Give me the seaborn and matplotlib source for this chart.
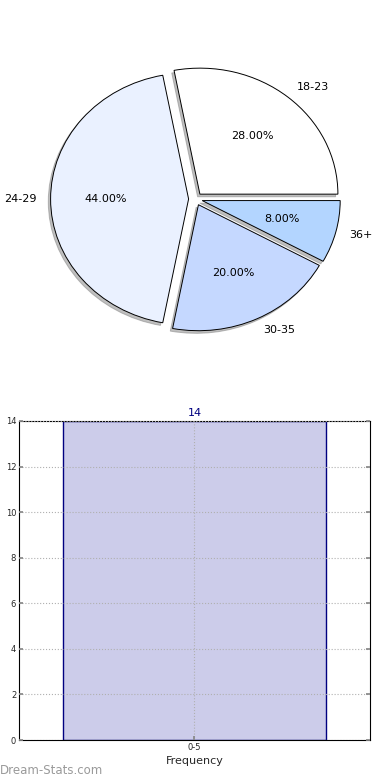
import matplotlib
matplotlib.use("Agg")
import matplotlib.pyplot as plt
import seaborn as sns
import numpy as np

# ---- data ----
pie_labels = ["18-23", "24-29", "30-35", "36+"]
pie_values = [28, 44, 20, 8]
pie_colors = ["#ffffff", "#eaf1ff", "#c5d8ff", "#b3d5ff"]

bar_categories = ["0-5"]
bar_values = [14]
y_ticks = [0, 2, 4, 6, 8, 10, 12, 14]

sns.set_theme(style="white")
plt.rcParams['font.family'] = ['DejaVu Sans']

fig = plt.figure(figsize=(3.9, 7.8), dpi=100)

# ---- pie ----
W, H = 390.0, 780.0
ax1 = fig.add_axes([0, 380 / H, 1, 400 / H])
ax1.axis("off")
wedges, texts, autotexts = ax1.pie(
    pie_values, labels=pie_labels, colors=pie_colors,
    explode=[0.05] * len(pie_values), startangle=0, counterclock=True,
    autopct="%1.2f%%", pctdistance=0.6, labeldistance=1.1,
    shadow={"ox": -0.012, "oy": -0.015, "facecolor": "#808080", "edgecolor": "#808080"},
    wedgeprops=dict(edgecolor="black", linewidth=0.7),
    textprops=dict(fontsize=8, color="black"))
ax1.set_aspect("auto")
rx, ry, cx, cy = 138.0, 126.0, 195.5, 199.0
ax1.set_xlim(-cx / rx, (W - cx) / rx)
ax1.set_ylim(-(400 - cy) / ry, cy / ry)

# ---- bar ----
left, right, top, bottom = 19, 370, 421, 740
ax2 = fig.add_axes([left / W, 1 - bottom / H, (right - left) / W, (bottom - top) / H])
sns.barplot(x=bar_categories, y=bar_values, ax=ax2, color="#ccccea",
            saturation=1, edgecolor="#000080", linewidth=1.0, width=0.8, zorder=2)
half = 0.8 * (right - left) / (326 - 62) / 2
ax2.set_xlim(-half, half)
ax2.set_ylim(0, 14)
ax2.set_yticks(y_ticks)
ax2.grid(True, linestyle=":", color="#b0b0b0", linewidth=0.8, zorder=3)
ax2.set_axisbelow(False)
for s in ax2.spines.values():
    s.set_visible(True)
    s.set_color("black")
    s.set_linewidth(0.8)
ax2.tick_params(axis="both", labelsize=6, direction="in", length=3,
                left=True, right=True, bottom=True, top=False, color="#888888", pad=2)
for i, v in enumerate(bar_values):
    ax2.text(i, v + 0.15, str(v), ha="center", va="bottom", fontsize=8, color="#000080")
ax2.set_xlabel("Frequency", fontsize=8, labelpad=3)
ax2.set_ylabel("Users Interval", fontsize=8)
ax2.yaxis.set_label_coords((3 - left) / (right - left), 0.5)

fig.text(0.0, 1 - 771 / H, "Dream-Stats.com", fontsize=8.5, color="#9a9a9a",
         ha="left", va="center")

fig.savefig("out.png", dpi=100)
